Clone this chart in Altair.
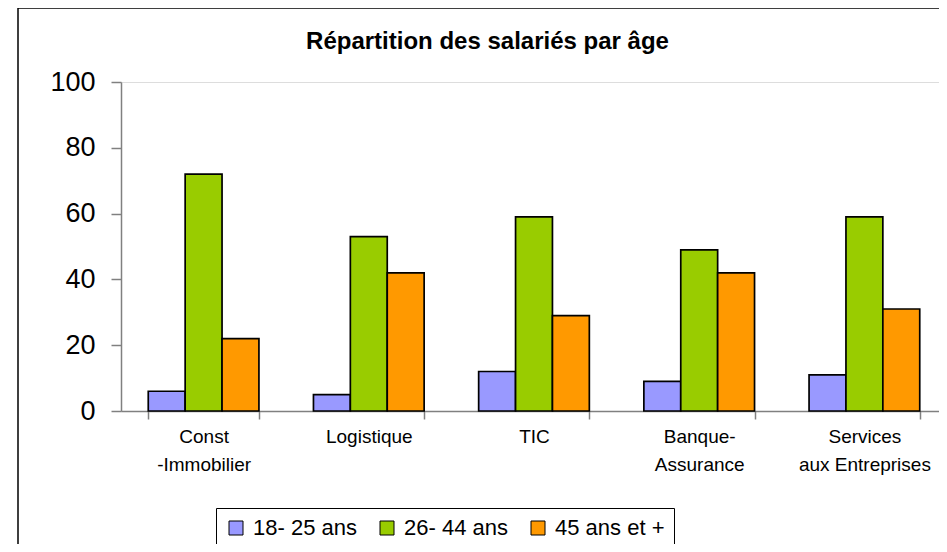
import altair as alt
import pandas as pd

categories = ["Const|-Immobilier", "Logistique", "TIC", "Banque-|Assurance", "Services|aux Entreprises"]
groups = ["18- 25 ans", "26- 44 ans", "45 ans et +"]
v_18_25 = [6, 5, 12, 9, 11]
v_26_44 = [72, 53, 59, 49, 59]
v_45p = [22, 42, 29, 42, 31]
colors = ["#9999FF", "#99CC00", "#FF9900"]
y_ticks = [0, 20, 40, 60, 80, 100]
title_text = "Répartition des salariés par âge"

rows = []
for g, vals in zip(groups, [v_18_25, v_26_44, v_45p]):
    for c, v in zip(categories, vals):
        rows.append({"cat": c, "grp": g, "val": v})
df = pd.DataFrame(rows)

FONT = "Liberation Sans"

bars = alt.Chart(df).mark_bar(stroke="black", strokeWidth=1.7).encode(
    x=alt.X("cat:N", sort=categories, title=None,
            scale=alt.Scale(paddingInner=0.33, paddingOuter=0.165, range=[0, 826]),
            axis=alt.Axis(labelAngle=0, tickBand="extent", tickSize=8,
                          labelExpr="split(datum.label, '|')",
                          labelFont=FONT, labelFontSize=19, labelColor="black",
                          labelLineHeight=28, labelPadding=8, labelBaseline="top",
                          domainColor="#808080", tickColor="#808080",
                          domainWidth=1.5, tickWidth=1.5)),
    xOffset=alt.XOffset("grp:N", sort=groups, scale=alt.Scale(paddingInner=0, paddingOuter=0)),
    y=alt.Y("val:Q", title=None,
            scale=alt.Scale(domain=[0, 100], nice=False),
            axis=alt.Axis(values=y_ticks, grid=False, tickSize=10,
                          labelFont=FONT, labelFontSize=27, labelColor="black",
                          labelPadding=16, domainColor="#808080", tickColor="#808080",
                          domainWidth=1.5, tickWidth=1.5)),
    fill=alt.Fill("grp:N", sort=groups,
                  scale=alt.Scale(domain=groups, range=colors),
                  legend=alt.Legend(title=None, orient="none", legendX=95, legendY=426,
                                    direction="horizontal", strokeColor="black",
                                    fillColor="white", padding=9, cornerRadius=0,
                                    symbolType="square", symbolSize=196,
                                    symbolStrokeColor="black", symbolStrokeWidth=1,
                                    labelFont=FONT, labelFontSize=22, labelColor="black",
                                    labelOffset=6, columnPadding=19)),
)

frame = alt.Chart(pd.DataFrame({"a": [0]})).mark_rect(
    fill=None, stroke="black", strokeWidth=1.5
).encode(
    x=alt.value(-103), x2=alt.value(1000), y=alt.value(-74), y2=alt.value(700)
)

title = alt.Chart(pd.DataFrame({"t": [title_text]})).mark_text(
    font=FONT, fontSize=24, fontWeight="bold", color="black",
    align="center", baseline="alphabetic"
).encode(
    x=alt.value(366.5), y=alt.value(-33.5), text="t:N"
)

chart = alt.layer(frame, title, bars).properties(
    width=818, height=329,
    autosize=alt.AutoSizeParams(type="none"),
    padding={"left": 113, "top": 74, "right": 0, "bottom": 133},
).configure_view(stroke=None).configure(background="white")

chart.save("out.html", embed_options={"renderer": "svg", "actions": False})
